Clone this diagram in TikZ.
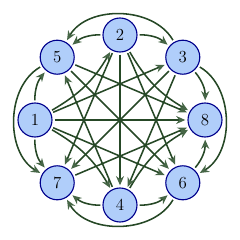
\documentclass[tikz,border=0pt]{standalone}
\usepackage{tikz}
\usetikzlibrary{arrows.meta}
\definecolor{nodeFill}{RGB}{176,206,250}
\definecolor{nodeDraw}{RGB}{0,0,140}
\definecolor{edgeCol}{RGB}{38,72,38}
\definecolor{tipCol}{RGB}{70,102,70}

\begin{document}
\begin{tikzpicture}[>={Stealth[length=2.3mm, width=2mm, color=tipCol]}, font=\large,
  vtx/.style={draw=nodeDraw, line width=0.8pt, circle, minimum size=0.85cm, inner sep=0pt, fill=nodeFill},
  link/.style={->, edgeCol, line width=1.1pt, shorten <=1.5pt, shorten >=1.5pt}]
  \useasboundingbox (-3,-3) rectangle (3,3);
  \node[vtx] (n2) at (90:2.125) {2};
  \node[vtx] (n3) at (45:2.22) {3};
  \node[vtx] (n8) at (0:2.125) {8};
  \node[vtx] (n6) at (-45:2.22) {6};
  \node[vtx] (n4) at (-90:2.125) {4};
  \node[vtx] (n7) at (-135:2.22) {7};
  \node[vtx] (n1) at (180:2.125) {1};
  \node[vtx] (n5) at (135:2.22) {5};
  % neighbours on the ring
  \draw[link] (n2) to[bend left=20] (n3);
  \draw[link] (n3) to[bend left=20] (n8);
  \draw[link] (n6) to[bend right=20] (n8);
  \draw[link] (n4) to[bend right=20] (n6);
  \draw[link] (n4) to[bend left=20] (n7);
  \draw[link] (n1) to[bend right=20] (n7);
  \draw[link] (n1) to[bend left=20] (n5);
  \draw[link] (n2) to[bend right=20] (n5);
  % two apart, round the outside
  \draw[link] (n3) to[bend right=60] (n5);
  \draw[link] (n5) to[bend right=60] (n7);
  \draw[link] (n6) to[bend left=60] (n7);
  \draw[link] (n3) to[bend left=60] (n6);
  % two apart, inside
  \draw[link] (n1) to[bend right=15] (n2);
  \draw[link] (n2) to[bend right=15] (n8);
  \draw[link] (n4) to[bend left=15] (n8);
  \draw[link] (n1) to[bend left=15] (n4);
  % straight chords
  \foreach \a/\b in {2/6,3/4,7/8,1/6,4/5,2/7,1/3,5/8,2/4,3/7,1/8,5/6}
    \draw[link] (n\a) -- (n\b);
\end{tikzpicture}
\end{document}
